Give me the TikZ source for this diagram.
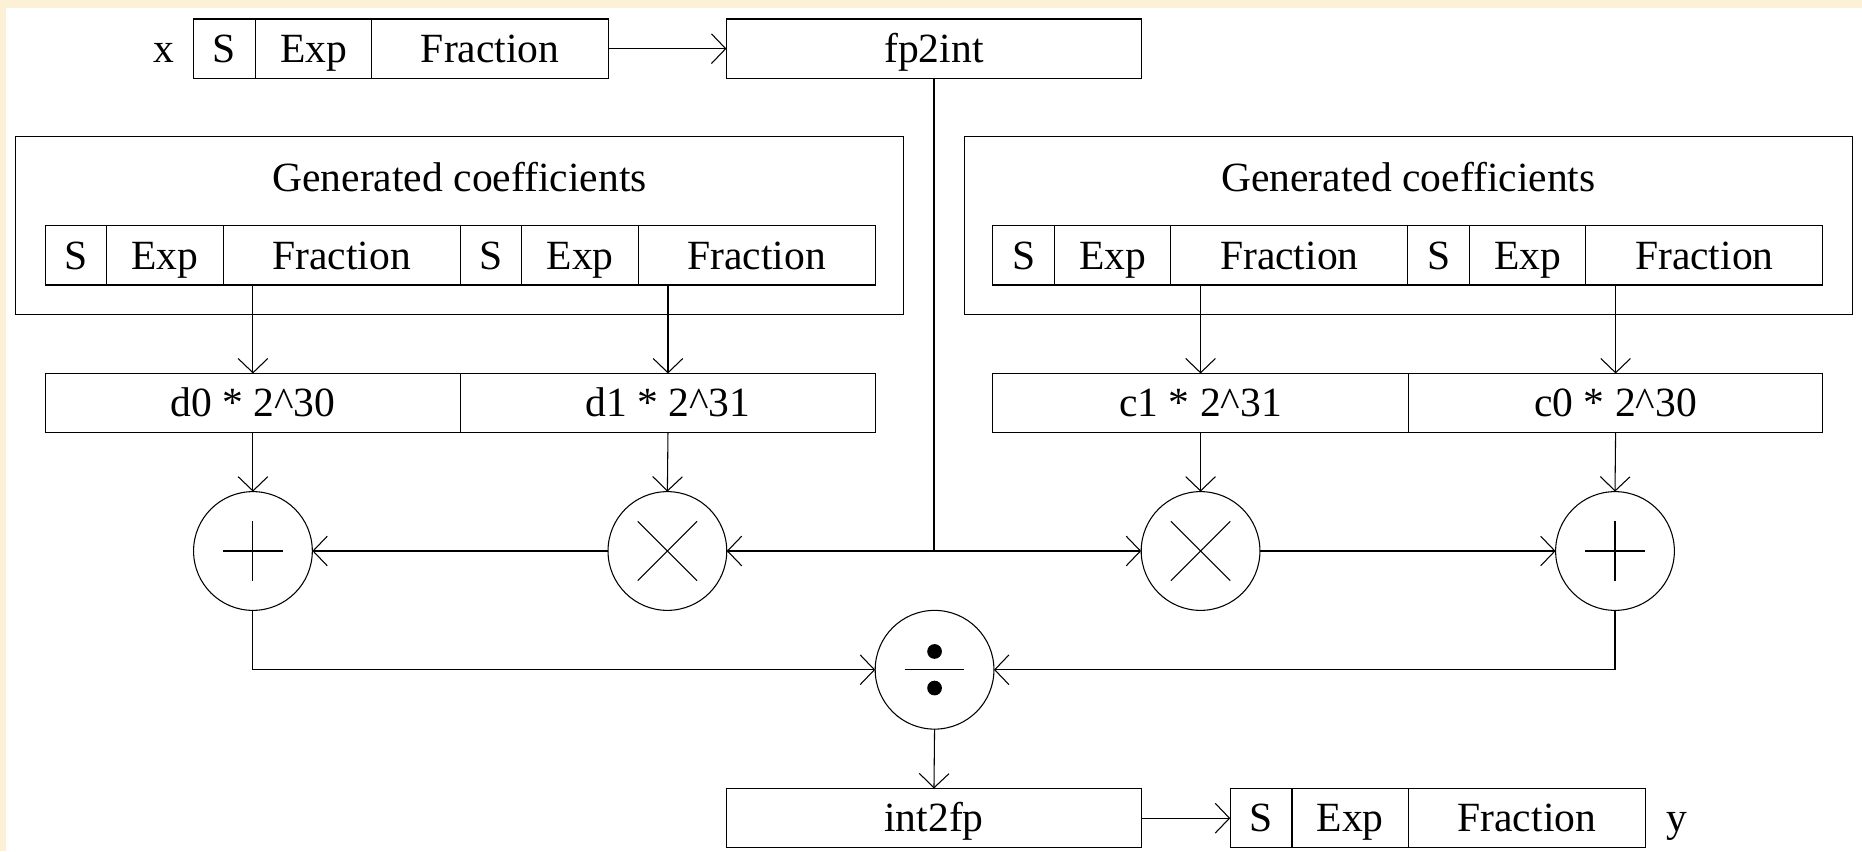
\documentclass[tikz,border=0pt]{standalone}
\usepackage{fontspec}
\setmainfont{Liberation Serif}
\usetikzlibrary{positioning,arrows.meta}

\definecolor{paper}{RGB}{252,241,214}

\begin{document}
\begin{tikzpicture}[x=0.5pt,y=-0.5pt,
  lw/.style={line width=0.45pt},
  txt/.style={font=\fontsize{17.5}{21}\selectfont, inner sep=0pt, text height=11.6pt, text depth=0pt},
  cell/.style={draw, lw, txt, minimum height=25pt, outer sep=0pt},
  sgn/.style={cell, minimum width=26pt},
  expo/.style={cell, minimum width=49pt},
  frac/.style={cell, minimum width=99.75pt},
  wide/.style={cell, minimum width=174.75pt},
  group/.style={draw, lw, minimum width=374pt, minimum height=75pt, inner sep=0pt, outer sep=0pt},
  op/.style={circle, draw, lw, minimum size=50pt, inner sep=0pt, outer sep=0pt},
  flow/.style={lw, -{Straight Barb[length=6pt,width=12.5pt,line width=0.45pt]}},
  wire/.style={lw}]

% page and paper edge
\useasboundingbox (0,0) rectangle (1568,717);
\fill[white] (0,0) rectangle (1568,717);
\fill[paper] (0,0) rectangle (1568,7);
\fill[paper] (0,0) rectangle (5,717);

% input float x
\node[txt] (xlab) at (138,41) {x};
\node[sgn] (xs) at (189,41) {S};
\node[expo, right=0pt of xs] (xe) {Exp};
\node[frac, right=0pt of xe] (xf) {Fraction};

% conversion to fixed point
\node[wide] (fp) at (786.5,41) {fp2int};

% left coefficient group
\node[group] (gl) at (387,190) {};
\node[txt] (gltitle) at (387,150) {Generated coefficients};
\node[sgn] (gls1) at (64,215) {S};
\node[expo, right=0pt of gls1] (gle1) {Exp};
\node[frac, right=0pt of gle1] (glf1) {Fraction};
\node[sgn, right=0pt of glf1] (gls2) {S};
\node[expo, right=0pt of gls2] (gle2) {Exp};
\node[frac, right=0pt of gle2] (glf2) {Fraction};

% right coefficient group
\node[group] (gr) at (1186,190) {};
\node[txt] (grtitle) at (1186,150) {Generated coefficients};
\node[sgn] (grs1) at (862,215) {S};
\node[expo, right=0pt of grs1] (gre1) {Exp};
\node[frac, right=0pt of gre1] (grf1) {Fraction};
\node[sgn, right=0pt of grf1] (grs2) {S};
\node[expo, right=0pt of grs2] (gre2) {Exp};
\node[frac, right=0pt of gre2] (grf2) {Fraction};

% scaled coefficients
\node[cell, minimum width=175pt] (d0) at (213,339.5) {d0 * 2\string^30};
\node[cell, minimum width=174.5pt, right=0pt of d0] (d1) {d1 * 2\string^31};
\node[cell, minimum width=175pt] (c1) at (1011,339.5) {c1 * 2\string^31};
\node[cell, minimum width=174.5pt, right=0pt of c1] (c0) {c0 * 2\string^30};

% operators
\node[op] (addl) at (213,464) {};
\node[op] (mull) at (562,464) {};
\node[op] (mulr) at (1011,464) {};
\node[op] (addr) at (1360,464) {};
\node[op] (dv) at (787,564) {};

\foreach \n in {addl,addr}{
  \draw[wire] ([xshift=-12.5pt]\n.center) -- ([xshift=12.5pt]\n.center);
  \draw[wire] ([yshift=-12.5pt]\n.center) -- ([yshift=12.5pt]\n.center);
}
\foreach \n in {mull,mulr}{
  \draw[wire] ([shift={(-12.5pt,-12.5pt)}]\n.center) -- ([shift={(12.5pt,12.5pt)}]\n.center);
  \draw[wire] ([shift={(-12.5pt,12.5pt)}]\n.center) -- ([shift={(12.5pt,-12.5pt)}]\n.center);
}
\draw[wire] ([xshift=-12.5pt]dv.center) -- ([xshift=12.5pt]dv.center);
\fill ([yshift=7.7pt]dv.center) circle (3.1pt);
\fill ([yshift=-7.7pt]dv.center) circle (3.1pt);

% back to floating point and output
\node[wide] (ifp) at (786.5,689) {int2fp};
\node[sgn] (ys) at (1062,689) {S};
\node[expo, right=0pt of ys] (ye) {Exp};
\node[frac, right=0pt of ye] (yf) {Fraction};
\node[txt] (ylab) at (1412,689) {y};

% connections
\coordinate (j) at (fp.south |- mull.center);
\draw[flow] (xf.east) -- (fp.west);
\draw[wire] (fp.south) -- (j);
\draw[flow] (j) -- (mull.east);
\draw[flow] (j) -- (mulr.west);
\draw[flow] (mull.west) -- (addl.east);
\draw[flow] (mulr.east) -- (addr.west);

\draw[flow] (d0.north |- glf1.south) -- (d0.north);
\draw[flow] (d1.north |- glf2.south) -- (d1.north);
\draw[flow] (c1.north |- grf1.south) -- (c1.north);
\draw[flow] (c0.north |- grf2.south) -- (c0.north);

\draw[flow] (d0.south) -- (addl.north);
\draw[flow] (d1.south) -- (mull.north);
\draw[flow] (c1.south) -- (mulr.north);
\draw[flow] (c0.south) -- (addr.north);

\draw[flow] (addl.south) |- (dv.west);
\draw[flow] (addr.south) |- (dv.east);
\draw[flow] (dv.south) -- (ifp.north);
\draw[flow] (ifp.east) -- (ys.west);
\end{tikzpicture}
\end{document}
